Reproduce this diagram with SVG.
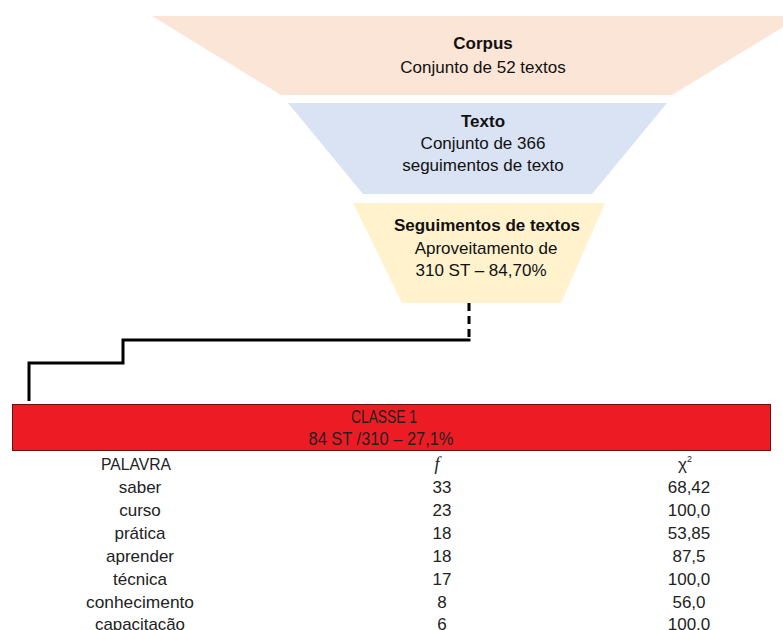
<svg xmlns="http://www.w3.org/2000/svg" width="783" height="630" viewBox="0 0 783 630">
<style>
.t{font-family:"Liberation Sans",Arial,sans-serif;font-size:17px;fill:#111;text-anchor:middle}
.b{font-weight:bold}
.tb{font-family:"Liberation Sans",Arial,sans-serif;font-size:17px;fill:#222;text-anchor:middle}
.hd{font-size:18px}
.n{font-family:"Liberation Sans",Arial,sans-serif;font-size:17px;fill:#222;text-anchor:middle}
.ln{fill:none;stroke:#000;stroke-width:3}
</style>
<rect width="783" height="630" fill="#fff"/>
<g id="corpus">
<polygon points="152,16 801,16 672,95 281,95" fill="#FBE5D6"/>
<text class="t b" x="483" y="49">Corpus</text>
<text class="t" x="483" y="73">Conjunto de 52 textos</text>
</g>
<g id="texto">
<polygon points="288,103 667,103 592,194 363,194" fill="#DAE3F3"/>
<text class="t b" x="483" y="127">Texto</text>
<text class="t" x="483" y="149">Conjunto de 366</text>
<text class="t" x="483" y="171">seguimentos de texto</text>
</g>
<g id="seguimentos">
<polygon points="353,203 605,203 561,303 402,303" fill="#FFF2CC"/>
<text class="t b" x="487" y="231">Seguimentos de textos</text>
<text class="t" x="486" y="254">Aproveitamento de</text>
<text class="t" x="481" y="276">310 ST – 84,70%</text>
</g>
<g id="connectors">
<line class="ln" x1="469" y1="303" x2="469" y2="340" stroke-dasharray="8,5"/>
<polyline class="ln" points="469,338.5 469,340 123,340 123,363 29,363 29,401"/>
</g>
<g id="classe1">
<rect x="12.5" y="404.5" width="758" height="46" fill="#ED1C24" stroke="#6a1212" stroke-width="1"/>
<text class="tb hd" x="384" y="423" textLength="66" lengthAdjust="spacingAndGlyphs">CLASSE 1</text>
<text class="tb hd" x="381" y="445" textLength="145" lengthAdjust="spacingAndGlyphs">84 ST /310 – 27,1%</text>
</g>
<g id="tabela">
<text class="tb" x="136" y="470" textLength="70" lengthAdjust="spacingAndGlyphs">PALAVRA</text>
<text class="tb hd" x="437" y="470" style="font-style:italic;font-family:'Liberation Serif',serif">f</text>
<text class="tb" x="685" y="470">χ<tspan style="font-size:9px" dy="-8">2</tspan></text>
<text class="tb" x="140" y="493">saber</text>
<text class="tb" x="140" y="516">curso</text>
<text class="tb" x="140" y="539">prática</text>
<text class="tb" x="140" y="562">aprender</text>
<text class="tb" x="140" y="585">técnica</text>
<text class="tb" x="140" y="608" textLength="108" lengthAdjust="spacingAndGlyphs">conhecimento</text>
<text class="tb" x="140" y="630" textLength="90" lengthAdjust="spacingAndGlyphs">capacitação</text>
<text class="n" x="442" y="493">33</text>
<text class="n" x="442" y="516">23</text>
<text class="n" x="442" y="539">18</text>
<text class="n" x="442" y="562">18</text>
<text class="n" x="442" y="585">17</text>
<text class="n" x="442" y="608">8</text>
<text class="n" x="442" y="630">6</text>
<text class="n" x="689" y="493">68,42</text>
<text class="n" x="689" y="516">100,0</text>
<text class="n" x="689" y="539">53,85</text>
<text class="n" x="689" y="562">87,5</text>
<text class="n" x="689" y="585">100,0</text>
<text class="n" x="689" y="608">56,0</text>
<text class="n" x="689" y="630">100,0</text>
</g>
</svg>
